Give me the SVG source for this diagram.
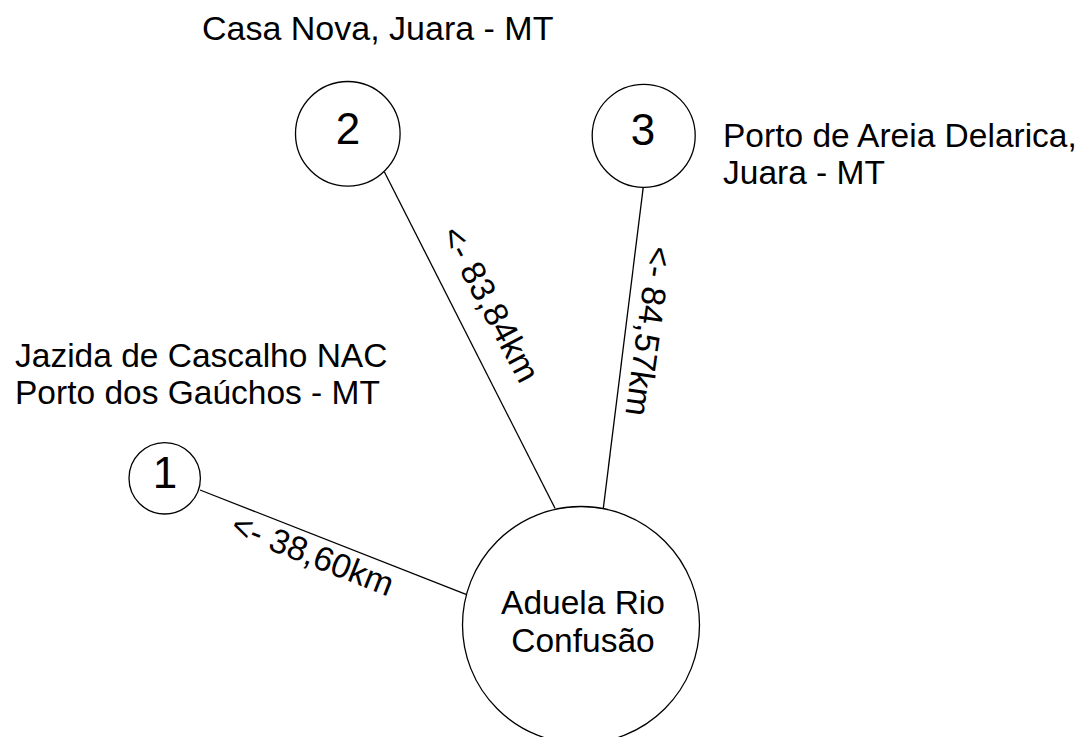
<svg xmlns="http://www.w3.org/2000/svg" width="1091" height="737" viewBox="0 0 1091 737">
<style>
text{font-family:"Liberation Sans",Arial,sans-serif;fill:#000}
.n{fill:#fff;stroke:#000;stroke-width:1.3}
.num{font-size:44px;text-anchor:middle}
.lbl{font-size:34px}
.two{font-size:33.5px}
.c{stroke:#000;stroke-width:1.3;fill:none}
.d{font-size:34px}
</style>
<rect width="1091" height="737" fill="#fff"/>
<g id="connectors">
<line class="c" x1="200" y1="490" x2="466" y2="594.3"/>
<line class="c" x1="384.3" y1="171.7" x2="555" y2="508.3"/>
<line class="c" x1="643.3" y1="186.7" x2="603.3" y2="508.3"/>
<text class="d" transform="translate(229,534) rotate(21.5)">&lt;- 38,60km</text>
<text class="d" transform="translate(440,234) rotate(62)">&lt;- 83,84km</text>
<text class="d" transform="translate(649,245) rotate(98)">&lt;- 84,57km</text>
</g>
<g id="node-aduela">
<circle class="n" cx="581" cy="625" r="118.5"/>
<text class="two" x="583" y="614" text-anchor="middle">Aduela Rio</text>
<text class="two" x="583" y="652" text-anchor="middle">Confusão</text>
</g>
<g id="node-1">
<circle class="n" cx="164.7" cy="478.3" r="35.7"/>
<text class="num" x="165" y="488">1</text>
<text class="two" x="15" y="367">Jazida de Cascalho NAC</text>
<text class="two" x="15" y="404">Porto dos Gaúchos - MT</text>
</g>
<g id="node-2">
<circle class="n" cx="347.8" cy="133.8" r="52.3"/>
<text class="num" x="348" y="144">2</text>
<text class="lbl" x="202" y="40">Casa Nova, Juara - MT</text>
</g>
<g id="node-3">
<circle class="n" cx="643.7" cy="135.8" r="51.5"/>
<text class="num" x="643" y="145">3</text>
<text class="two" x="723" y="147">Porto de Areia Delarica,</text>
<text class="two" x="723" y="184">Juara - MT</text>
</g>
</svg>
